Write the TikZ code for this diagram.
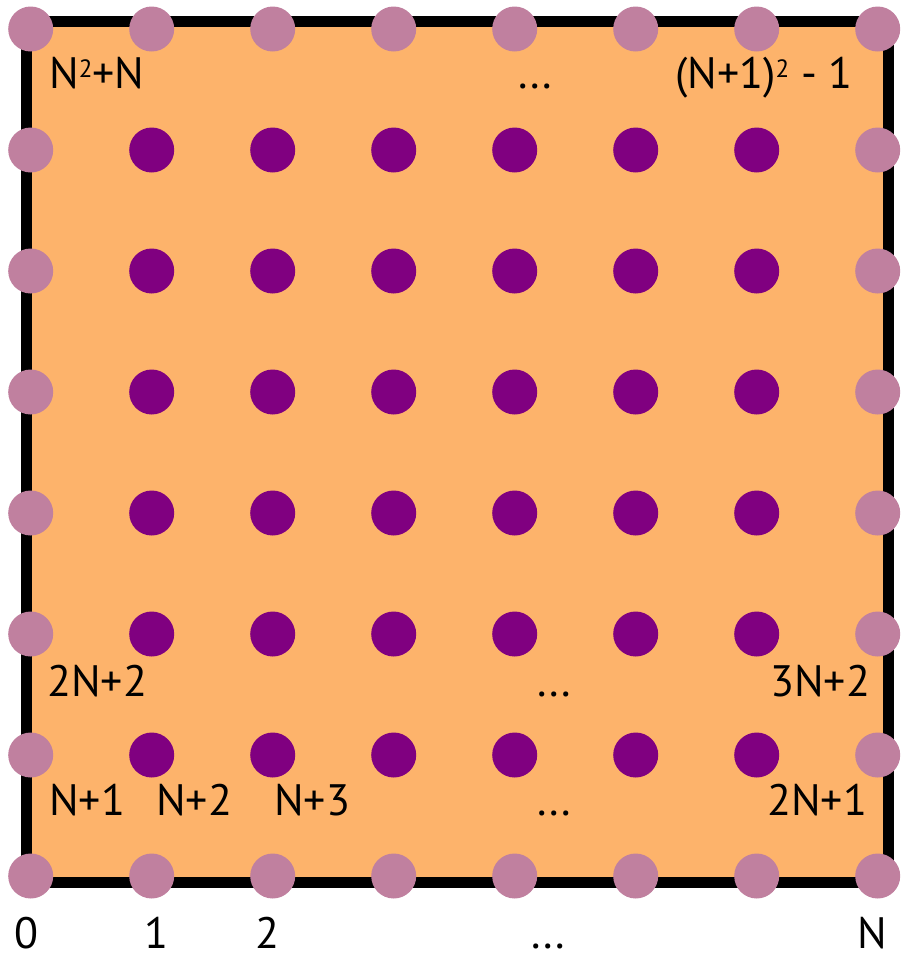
\documentclass[tikz,border=0pt]{standalone}
\usepackage{fontspec}
\setmainfont{PT Sans}
\definecolor{peach}{HTML}{FDB36B}
\definecolor{mauve}{HTML}{C0809F}
\definecolor{plum}{HTML}{800080}
\newcommand{\sqsup}{\raisebox{11pt}{\fontsize{25}{25}\selectfont 2}}
\begin{document}
\begin{tikzpicture}[x=1pt,y=-1pt,
  bdot/.style={circle,fill=mauve,minimum size=45pt,inner sep=0pt},
  idot/.style={circle,fill=plum,minimum size=45pt,inner sep=0pt},
  lbl/.style={font=\fontsize{44}{44}\selectfont,inner sep=0pt,anchor=base west},
  blbl/.style={font=\fontsize{44}{44}\selectfont,inner sep=0pt,anchor=base}]
\useasboundingbox (0,0) rectangle (901,956);
\draw[line width=11pt,fill=peach] (26.5,21) rectangle (888,882.5);
\foreach \i in {0,...,7}{
  \foreach \j in {0,...,7}{
    \pgfmathtruncatemacro{\edge}{(\i==0)||(\i==7)||(\j==0)||(\j==7)}
    \ifnum\edge=1
      \node[bdot] (d-\i-\j) at ({30.7+121*\i},{29+121*\j}) {};
    \else
      \node[idot] (d-\i-\j) at ({30.7+121*\i},{29+121*\j}) {};
    \fi
  }
}
% top row labels
\node[lbl] (t1) at (49,88) {N\sqsup+N};
\node[lbl] (t2) at (518,88) {...};
\node[lbl] (t3) at (675,88) {(N+1)\sqsup\ - 1};
% row 2N+2
\node[lbl] (r1) at (47,696) {2N+2};
\node[lbl] (r2) at (537,696) {...};
\node[lbl] (r3) at (770,696) {3N+2};
% row N+1
\node[lbl] (s1) at (49,815) {N+1};
\node[lbl] (s2) at (156,815) {N+2};
\node[lbl] (s3) at (274,815) {N+3};
\node[lbl] (s4) at (537,815) {...};
\node[lbl] (s5) at (767,815) {2N+1};
% bottom axis
\node[blbl] (b0) at (26,948) {0};
\node[blbl] (b1) at (156,948) {1};
\node[blbl] (b2) at (267,948) {2};
\node[blbl] (b3) at (548,948) {...};
\node[blbl] (bN) at (872,948) {N};
\end{tikzpicture}
\end{document}
